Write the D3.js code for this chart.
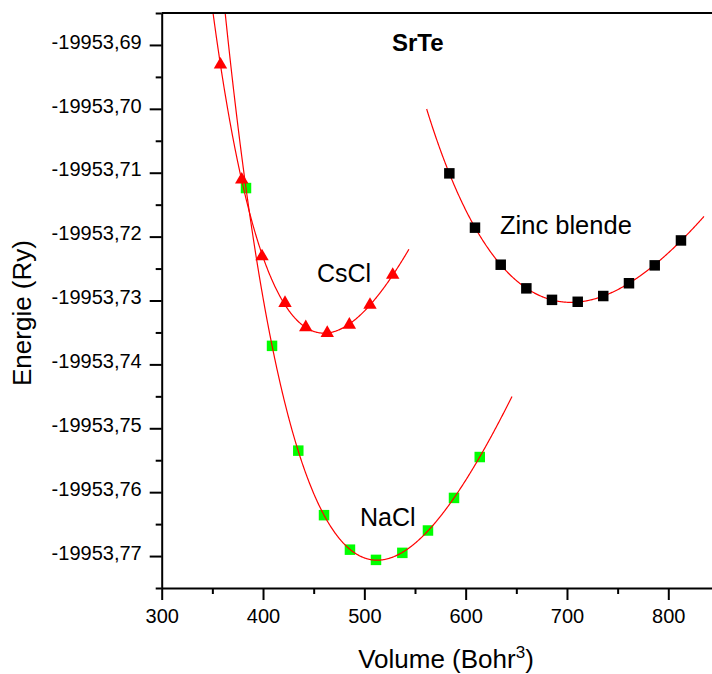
<!DOCTYPE html>
<meta charset='utf-8'>
<title>SrTe E(V)</title>
<style>
  body { margin: 0; background: #fff; }
  svg { display: block; font-family: Arial, 'Liberation Sans', sans-serif; }
  .axis path, .axis line { stroke: #000; stroke-width: 2px; }
  .axis text { fill: #000; }
  .fit { fill: none; stroke: #ff0000; stroke-width: 1.2px; }
</style>
<body>
<script src='https://cdn.jsdelivr.net/npm/d3@7'></script>
<script>

  // volumes (Bohr^3) and energies (Ry)
  var cscl_v = [358, 379, 399, 421.7, 442.2, 463.4, 485.2, 505.6, 528]
  var cscl_e = [-19953.6931, -19953.7111, -19953.7231, -19953.7304, -19953.7342, -19953.7351, -19953.7338, -19953.7307, -19953.7260]

  var nacl_v = [383.2, 408.9, 434.8, 460.2, 485.8, 511.5, 537.5, 562.8, 588.5, 613.9]
  var nacl_e = [-19953.7124, -19953.7371, -19953.7535, -19953.7636, -19953.7690, -19953.7706, -19953.7695, -19953.7660, -19953.7609, -19953.7545]

  var zb_v = [583.9, 609.2, 634.6, 659.9, 685.2, 710.6, 735.8, 761.2, 786.6, 812.5]
  var zb_e = [-19953.7101, -19953.7186, -19953.7244, -19953.7281, -19953.7299, -19953.7302, -19953.7293, -19953.7273, -19953.7245, -19953.7206]

  // volume span of each fitted curve
  var cscl_span = [340, 544]
  var nacl_span = [350, 645.7]
  var zb_span = [561.5, 835.2]

  var xTicks = [300, 400, 500, 600, 700, 800]
  var xMinor = [350, 450, 550, 650, 750, 850]
  var yTicks = [-19953.77, -19953.76, -19953.75, -19953.74, -19953.73, -19953.72, -19953.71, -19953.70, -19953.69]
  var yMinor = [-19953.775, -19953.765, -19953.755, -19953.745, -19953.735, -19953.725, -19953.715, -19953.705, -19953.695, -19953.685]

  var width = 712, height = 674
  var mLeft = 161.7, mTop = 13, mBottom = 588

  var svg = d3.select('body').append('svg')
    .attr('width', width)
    .attr('height', height)

  var x = d3.scaleLinear().domain([300, 850]).range([mLeft, mLeft + 550 * 1.0132])
  var y = d3.scaleLinear().domain([-19953.775, -19953.685]).range([mBottom, mTop])

  svg.append('defs').append('clipPath').attr('id', 'plot')
    .append('rect')
    .attr('x', mLeft).attr('y', mTop)
    .attr('width', width - mLeft).attr('height', mBottom - mTop)

  // third order Birch-Murnaghan: E is a cubic in V^(-2/3)
  function bmFit(V, E) {
    var v0 = d3.mean(V), e0 = d3.mean(E)
    var xs = V.map(function(v) { return Math.pow(v / v0, -2 / 3) - 1 })
    var ys = E.map(function(e) { return (e - e0) * 1000 })
    var A = [], b = []
    for (var j = 0; j < 4; j++) {
      A.push([0, 0, 0, 0]); b.push(0)
    }
    xs.forEach(function(t, i) {
      for (var j = 0; j < 4; j++) {
        for (var k = 0; k < 4; k++) A[j][k] += Math.pow(t, j + k)
        b[j] += ys[i] * Math.pow(t, j)
      }
    })
    // gaussian elimination
    for (var c = 0; c < 4; c++) {
      for (var r = c + 1; r < 4; r++) {
        var f = A[r][c] / A[c][c]
        for (var k = c; k < 4; k++) A[r][k] -= f * A[c][k]
        b[r] -= f * b[c]
      }
    }
    var p = [0, 0, 0, 0]
    for (var r = 3; r >= 0; r--) {
      var s = b[r]
      for (var k = r + 1; k < 4; k++) s -= A[r][k] * p[k]
      p[r] = s / A[r][r]
    }
    return function(v) {
      var t = Math.pow(v / v0, -2 / 3) - 1
      return e0 + (p[0] + p[1] * t + p[2] * t * t + p[3] * t * t * t) / 1000
    }
  }

  var line = d3.line()
    .x(function(d) { return x(d[0]) })
    .y(function(d) { return y(d[1]) })

  function drawFit(V, E, span) {
    var f = bmFit(V, E)
    var pts = d3.range(span[0], span[1], 0.5).concat([span[1]]).map(function(v) { return [v, f(v)] })
    svg.append('path')
      .attr('class', 'fit')
      .attr('clip-path', 'url(#plot)')
      .attr('d', line(pts))
  }

  function drawPoints(V, E, type, size, color) {
    svg.append('g').selectAll('path')
      .data(V.map(function(v, i) { return [v, E[i]] }))
      .enter().append('path')
      .attr('transform', function(d) { return 'translate(' + x(d[0]) + ',' + y(d[1]) + ')' })
      .attr('d', d3.symbol().type(type).size(size))
      .attr('fill', color)
  }

  drawFit(zb_v, zb_e, zb_span)
  drawPoints(zb_v, zb_e, d3.symbolSquare, 110, '#000')
  drawPoints(nacl_v, nacl_e, d3.symbolSquare, 110, '#00ff00')
  drawPoints(cscl_v, cscl_e, d3.symbolTriangle, 78, '#ff0000')
  drawFit(nacl_v, nacl_e, nacl_span)
  drawFit(cscl_v, cscl_e, cscl_span)

  /* ------- AXES -------*/
  var fmt = function(d) { return d3.format('.2f')(d).replace('\u2212', '-').replace('.', ',') }

  var xAxis = svg.append('g').attr('class', 'axis')
    .attr('transform', 'translate(0,' + mBottom + ')')
    .call(d3.axisBottom(x).tickValues(xTicks).tickSize(12).tickSizeOuter(0).tickPadding(9))
  xAxis.selectAll('text').style('font-size', '20px')
  svg.append('g').attr('class', 'axis')
    .attr('transform', 'translate(0,' + mBottom + ')')
    .call(d3.axisBottom(x).tickValues(xMinor).tickSize(6).tickFormat(''))
    .select('.domain').remove()

  var yAxis = svg.append('g').attr('class', 'axis')
    .attr('transform', 'translate(' + mLeft + ',0)')
    .call(d3.axisLeft(y).tickValues(yTicks).tickFormat(fmt).tickSize(12).tickSizeOuter(0).tickPadding(8))
  yAxis.selectAll('text').style('font-size', '20px').attr('dy', '0.16em')
  svg.append('g').attr('class', 'axis')
    .attr('transform', 'translate(' + mLeft + ',0)')
    .call(d3.axisLeft(y).tickValues(yMinor).tickSize(6).tickFormat(''))
    .select('.domain').remove()

  // top frame line
  svg.append('line')
    .attr('x1', mLeft).attr('x2', width)
    .attr('y1', mTop).attr('y2', mTop)
    .attr('stroke', '#000').attr('stroke-width', 2)

  /* ------- TEXT -------*/
  var title = svg.append('text')
    .attr('x', 446).attr('y', 668)
    .attr('text-anchor', 'middle')
    .style('font-size', '26px')
  title.append('tspan').text('Volume (Bohr')
  title.append('tspan').attr('dy', -10).style('font-size', '17px').text('3')
  title.append('tspan').attr('dy', 10).text(')')

  svg.append('text')
    .attr('transform', 'translate(31,313) rotate(-90)')
    .attr('text-anchor', 'middle')
    .style('font-size', '26px')
    .text('Energie (Ry)')

  svg.append('text')
    .attr('x', 392).attr('y', 51)
    .style('font-size', '24px').style('font-weight', 'bold')
    .text('SrTe')

  svg.append('text').attr('x', 317).attr('y', 282).style('font-size', '25px').text('CsCl')
  svg.append('text').attr('x', 500).attr('y', 234).style('font-size', '25.5px').text('Zinc blende')
  svg.append('text').attr('x', 360).attr('y', 526).style('font-size', '25px').text('NaCl')

</script>
</body>
